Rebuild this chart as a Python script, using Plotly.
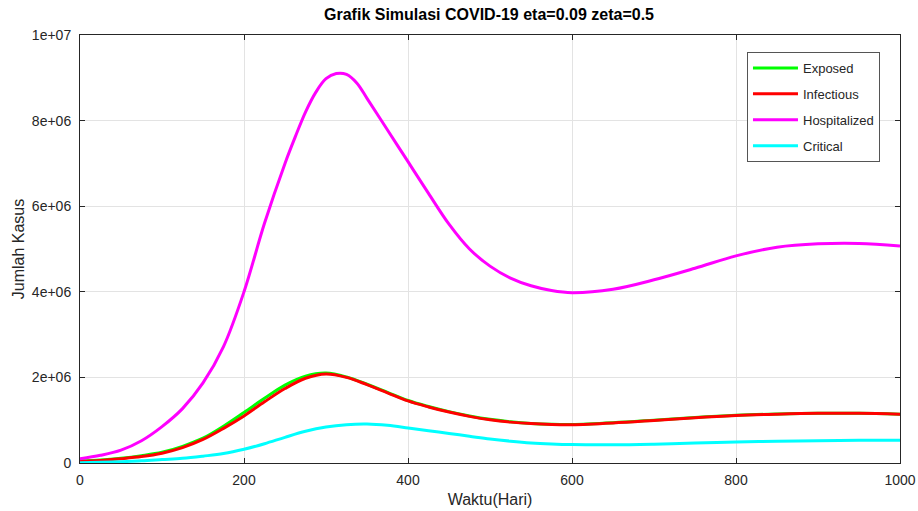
import plotly.graph_objects as go

days = [0, 25, 50, 75, 100, 125, 150, 175, 200, 225, 250, 275, 300, 325, 350, 375,
        400, 425, 450, 475, 500, 525, 550, 575, 600, 650, 700, 750, 800, 850, 900, 950, 1000]

exposed = [0.05e6, 0.07e6, 0.11e6, 0.17e6, 0.25e6, 0.39e6, 0.58e6, 0.86e6, 1.18e6, 1.51e6,
           1.82e6, 2.03e6, 2.10e6, 2.01e6, 1.84e6, 1.65e6, 1.46e6, 1.32e6, 1.20e6, 1.10e6,
           1.02e6, 0.965e6, 0.925e6, 0.905e6, 0.90e6, 0.94e6, 1.00e6, 1.065e6, 1.115e6, 1.145e6,
           1.16e6, 1.16e6, 1.14e6]

infectious = [0.04e6, 0.06e6, 0.10e6, 0.15e6, 0.23e6, 0.36e6, 0.55e6, 0.81e6, 1.10e6, 1.43e6,
              1.74e6, 1.98e6, 2.08e6, 2.00e6, 1.83e6, 1.64e6, 1.45e6, 1.31e6, 1.19e6, 1.09e6,
              1.01e6, 0.955e6, 0.92e6, 0.90e6, 0.895e6, 0.935e6, 0.995e6, 1.06e6, 1.11e6, 1.14e6,
              1.16e6, 1.16e6, 1.14e6]

critical = [0.005e6, 0.015e6, 0.03e6, 0.05e6, 0.08e6, 0.11e6, 0.16e6, 0.22e6, 0.32e6, 0.45e6,
            0.60e6, 0.74e6, 0.84e6, 0.895e6, 0.91e6, 0.88e6, 0.82e6, 0.755e6, 0.69e6, 0.625e6,
            0.56e6, 0.51e6, 0.47e6, 0.445e6, 0.43e6, 0.425e6, 0.44e6, 0.465e6, 0.49e6, 0.51e6,
            0.52e6, 0.53e6, 0.53e6]

hosp_days = [0, 25, 50, 75, 100, 125, 150, 175, 200, 225, 250, 262.5, 275, 287.5, 300, 312.5,
             325, 337.5, 350, 375, 400, 425, 450, 475, 500, 525, 550, 575, 600, 650, 700, 750,
             800, 850, 900, 950, 1000]

hospitalized = [0.10e6, 0.18e6, 0.30e6, 0.52e6, 0.85e6, 1.27e6, 1.87e6, 2.72e6, 4.00e6, 5.60e6,
                7.00e6, 7.62e6, 8.20e6, 8.66e6, 8.98e6, 9.10e6, 9.08e6, 8.88e6, 8.52e6, 7.78e6,
                7.04e6, 6.30e6, 5.58e6, 5.00e6, 4.60e6, 4.32e6, 4.14e6, 4.03e6, 3.98e6, 4.06e6,
                4.28e6, 4.55e6, 4.84e6, 5.04e6, 5.12e6, 5.13e6, 5.07e6]

series_names = ["Exposed", "Infectious", "Hospitalized", "Critical"]
series_colors = ["#00ff00", "#ff0000", "#ff00ff", "#00ffff"]

x_tickvals = [0, 200, 400, 600, 800, 1000]
x_ticktext = ["0", "200", "400", "600", "800", "1000"]
y_tickvals = [0, 2e6, 4e6, 6e6, 8e6, 1e7]
y_ticktext = ["0", "2e+06", "4e+06", "6e+06", "8e+06", "1e+07"]

series_x = [days, days, hosp_days, days]
series_y = [exposed, infectious, hospitalized, critical]

fig = go.Figure()
for name, xs, ys, col in zip(series_names, series_x, series_y, series_colors):
    fig.add_trace(go.Scatter(x=xs, y=ys, mode="lines", name=name, legendgroup=name,
                             line=dict(color=col, width=3, shape="spline", smoothing=1.0)))

axis_col = "#262626"
font_fam = "Liberation Sans, Arial, sans-serif"

fig.update_layout(
    width=918, height=511,
    margin=dict(l=80, r=18, t=35, b=48),
    paper_bgcolor="white", plot_bgcolor="white",
    font=dict(family=font_fam, size=13, color=axis_col),
    title=dict(text="<b>Grafik Simulasi COVID-19 eta=0.09 zeta=0.5</b>", x=0.5327, xanchor="center",
               y=0.9726, yanchor="middle", font=dict(size=16, color="black")),
    legend=dict(x=0.8134, xanchor="left", y=0.9603, yanchor="top",
                bgcolor="white", bordercolor="#555555", borderwidth=1,
                font=dict(size=13, color=axis_col), tracegroupgap=6, itemwidth=45),
    showlegend=True,
)
fig.update_xaxes(range=[0, 1000], tickvals=x_tickvals, ticktext=x_ticktext, automargin=False,
                 showline=True, linecolor=axis_col, linewidth=1, mirror="ticks",
                 ticks="inside", ticklen=5, tickcolor=axis_col, ticklabelstandoff=4,
                 showgrid=True, gridcolor="#e3e3e3", gridwidth=1, zeroline=False,
                 title=dict(text="Waktu(Hari)", font=dict(size=16, color=axis_col), standoff=7),
                 tickfont=dict(size=14, color=axis_col))
fig.update_yaxes(range=[0, 1e7], tickvals=y_tickvals, ticktext=y_ticktext, automargin=False,
                 showline=True, linecolor=axis_col, linewidth=1, mirror="ticks",
                 ticks="inside", ticklen=5, tickcolor=axis_col, ticklabelstandoff=5,
                 showgrid=True, gridcolor="#e3e3e3", gridwidth=1, zeroline=False,
                 title=dict(text="Jumlah Kasus", font=dict(size=16, color=axis_col), standoff=3),
                 tickfont=dict(size=14, color=axis_col))

fig.write_html("out.html")
